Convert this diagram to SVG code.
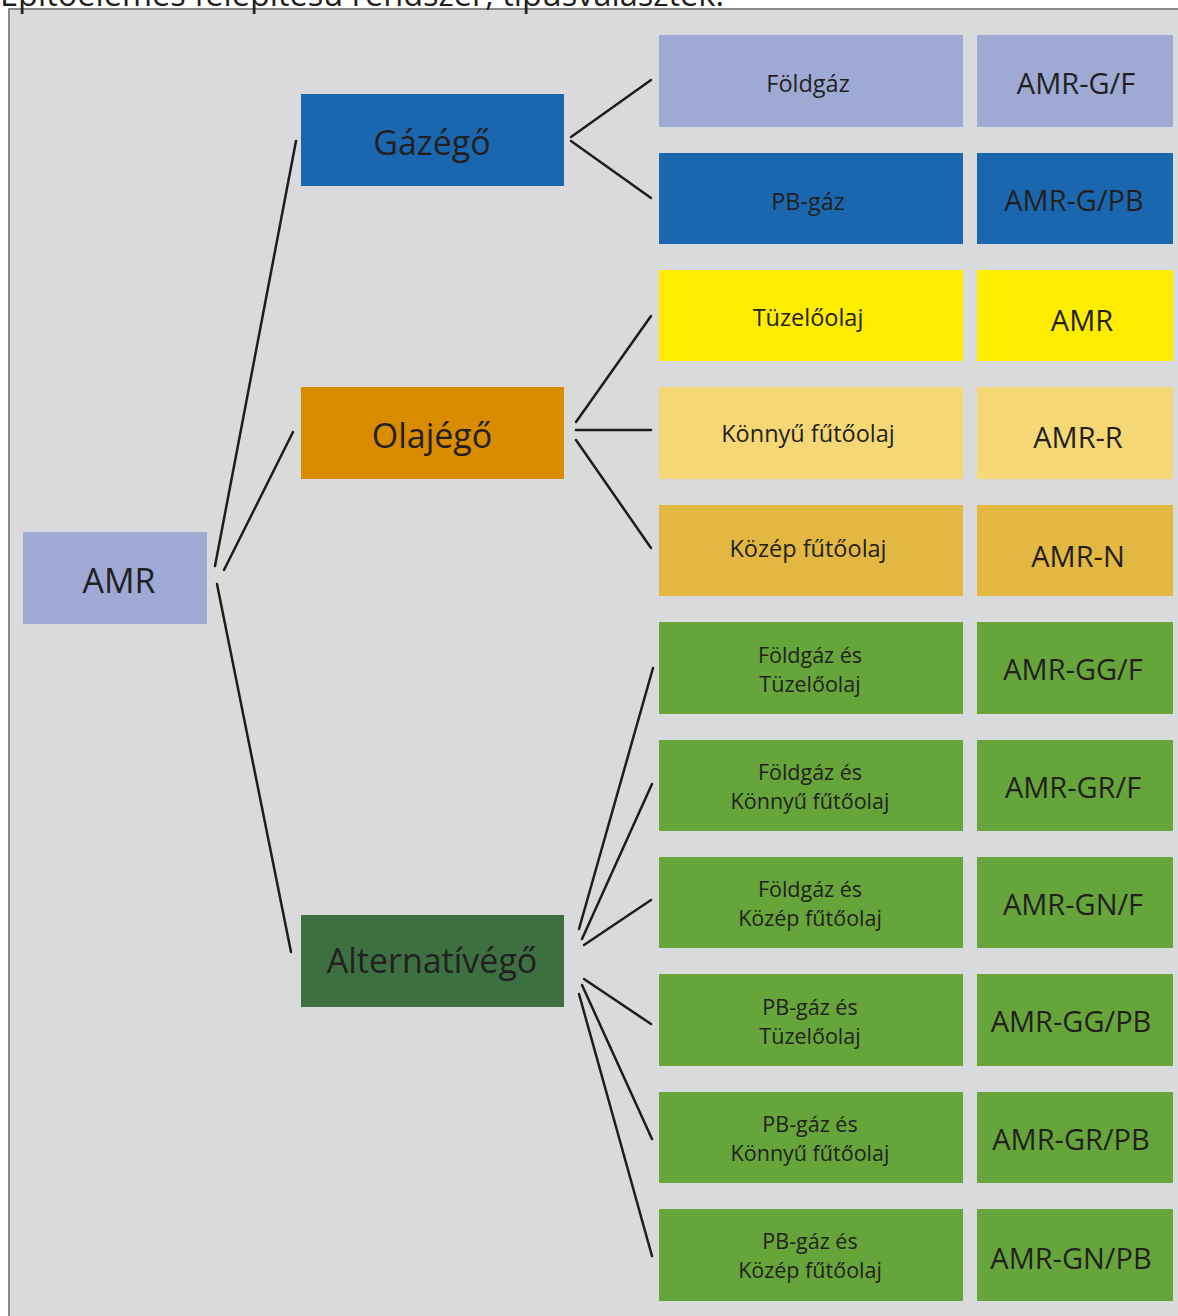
<svg xmlns="http://www.w3.org/2000/svg" width="1178" height="1316" viewBox="0 0 1178 1316">
<style>
text{font-family:"Open Sans","Noto Sans","DejaVu Sans",sans-serif;fill:#231f20;text-anchor:middle}
.big{font-size:34px}
.one{font-size:23.5px}
.mid{font-size:21.5px}
.code{font-size:29px}
.cn line{stroke:#1d1d1b;stroke-width:2.5;stroke-linecap:round}
</style>
<rect x="0" y="0" width="1178" height="1316" fill="#ffffff"/>
<rect x="9" y="9" width="1180" height="1320" fill="#d9dadc" stroke="#8a8a8a" stroke-width="2"/>
<text x="0" y="6" style="font-size:32.5px;text-anchor:start">Építőelemes felépítésű rendszer, típusválaszték.</text>

<g class="cn" id="connectors">
<line x1="215" y1="566" x2="296" y2="141"/>
<line x1="224" y1="570" x2="293" y2="432"/>
<line x1="217" y1="584" x2="291" y2="952"/>
<line x1="571" y1="137" x2="651" y2="80"/>
<line x1="571" y1="141" x2="651" y2="198"/>
<line x1="576" y1="422" x2="651" y2="316"/>
<line x1="576" y1="430" x2="651" y2="430"/>
<line x1="576" y1="440" x2="651" y2="548"/>
<line x1="579" y1="929" x2="653" y2="668"/>
<line x1="582" y1="939" x2="652" y2="784"/>
<line x1="584" y1="945" x2="651" y2="900"/>
<line x1="584" y1="979" x2="651" y2="1024"/>
<line x1="582" y1="985" x2="652" y2="1139"/>
<line x1="579" y1="994" x2="652" y2="1256"/>
</g>

<g id="amr"><rect x="23" y="532" width="184" height="92" fill="#9eaad4"/><text class="big" x="119" y="593">AMR</text></g>
<g id="gazego"><rect x="301" y="94" width="263" height="92" fill="#1a67b0"/><text class="big" x="432" y="155">Gázégő</text></g>
<g id="olajego"><rect x="301" y="387" width="263" height="92" fill="#d98c00"/><text class="big" x="432" y="448">Olajégő</text></g>
<g id="alternativego"><rect x="301" y="915" width="263" height="92" fill="#3d7040"/><text class="big" x="432" y="973">Alternatívégő</text></g>

<g id="r1"><rect x="659" y="35" width="304" height="92" fill="#9eaad4"/><text class="one" x="808" y="92">Földgáz</text></g>
<g id="r1c"><rect x="977" y="35" width="196" height="92" fill="#9eaad4"/><text class="code" x="1076" y="94">AMR-G/F</text></g>
<g id="r2"><rect x="659" y="153" width="304" height="91" fill="#1a67b0"/><text class="one" x="808" y="210">PB-gáz</text></g>
<g id="r2c"><rect x="977" y="153" width="196" height="91" fill="#1a67b0"/><text class="code" x="1074" y="211">AMR-G/PB</text></g>
<g id="r3"><rect x="659" y="270" width="304" height="91" fill="#ffed00"/><text class="one" x="808" y="326">Tüzelőolaj</text></g>
<g id="r3c"><rect x="977" y="270" width="196" height="91" fill="#ffed00"/><text class="code" x="1082" y="331">AMR</text></g>
<g id="r4"><rect x="659" y="387" width="304" height="92" fill="#f5d775"/><text class="one" x="808" y="442">Könnyű fűtőolaj</text></g>
<g id="r4c"><rect x="977" y="387" width="196" height="92" fill="#f5d775"/><text class="code" x="1078" y="448">AMR-R</text></g>
<g id="r5"><rect x="659" y="505" width="304" height="91" fill="#e3b842"/><text class="one" x="808" y="557">Közép fűtőolaj</text></g>
<g id="r5c"><rect x="977" y="505" width="196" height="91" fill="#e3b842"/><text class="code" x="1078" y="567">AMR-N</text></g>

<g id="r6"><rect x="659" y="622" width="304" height="92" fill="#66a53a"/><text class="mid" x="810" y="663">Földgáz és</text><text class="mid" x="810" y="692">Tüzelőolaj</text></g>
<g id="r6c"><rect x="977" y="622" width="196" height="92" fill="#66a53a"/><text class="code" x="1073" y="680">AMR-GG/F</text></g>
<g id="r7"><rect x="659" y="740" width="304" height="91" fill="#66a53a"/><text class="mid" x="810" y="780">Földgáz és</text><text class="mid" x="810" y="809">Könnyű fűtőolaj</text></g>
<g id="r7c"><rect x="977" y="740" width="196" height="91" fill="#66a53a"/><text class="code" x="1073" y="798">AMR-GR/F</text></g>
<g id="r8"><rect x="659" y="857" width="304" height="91" fill="#66a53a"/><text class="mid" x="810" y="897">Földgáz és</text><text class="mid" x="810" y="926">Közép fűtőolaj</text></g>
<g id="r8c"><rect x="977" y="857" width="196" height="91" fill="#66a53a"/><text class="code" x="1073" y="915">AMR-GN/F</text></g>
<g id="r9"><rect x="659" y="974" width="304" height="92" fill="#66a53a"/><text class="mid" x="810" y="1015">PB-gáz és</text><text class="mid" x="810" y="1044">Tüzelőolaj</text></g>
<g id="r9c"><rect x="977" y="974" width="196" height="92" fill="#66a53a"/><text class="code" x="1071" y="1032">AMR-GG/PB</text></g>
<g id="r10"><rect x="659" y="1092" width="304" height="91" fill="#66a53a"/><text class="mid" x="810" y="1132">PB-gáz és</text><text class="mid" x="810" y="1161">Könnyű fűtőolaj</text></g>
<g id="r10c"><rect x="977" y="1092" width="196" height="91" fill="#66a53a"/><text class="code" x="1071" y="1150">AMR-GR/PB</text></g>
<g id="r11"><rect x="659" y="1209" width="304" height="92" fill="#66a53a"/><text class="mid" x="810" y="1249">PB-gáz és</text><text class="mid" x="810" y="1278">Közép fűtőolaj</text></g>
<g id="r11c"><rect x="977" y="1209" width="196" height="92" fill="#66a53a"/><text class="code" x="1071" y="1269">AMR-GN/PB</text></g>
</svg>
